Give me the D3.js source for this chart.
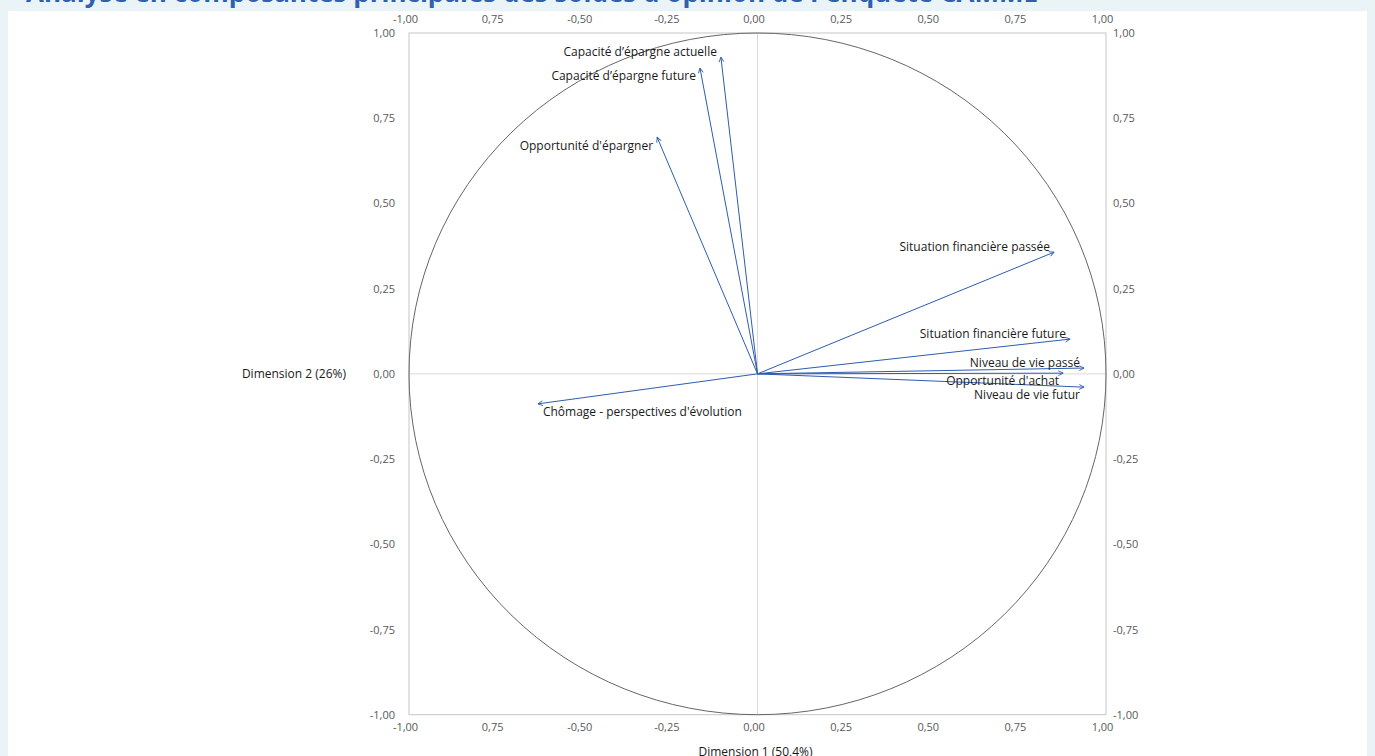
<!DOCTYPE html>
<html>
<head>
<meta charset="utf-8">
<script src="https://cdn.jsdelivr.net/npm/d3@7"></script>
<style>
  html, body { margin: 0; padding: 0; background: #eaf4f7; }
  svg { display: block; font-family: "Open Sans", "Noto Sans", sans-serif; }
</style>
</head>
<body>
<svg id="chart" width="1375" height="756"></svg>
<script>
// ---- Data ----
const variables = [
  "Capacité d’épargne actuelle",
  "Capacité d’épargne future",
  "Opportunité d'épargner",
  "Situation financière passée",
  "Situation financière future",
  "Niveau de vie passé",
  "Opportunité d'achat",
  "Niveau de vie futur",
  "Chômage - perspectives d'évolution"
];
const dim1 = [-0.105, -0.165, -0.288, 0.851, 0.897, 0.937, 0.877, 0.937, -0.630];
const dim2 = [0.929, 0.897, 0.694, 0.357, 0.102, 0.017, 0.002, -0.039, -0.088];
// label placement relative to arrow tip: "above" / "below" (end-anchored), "belowRight" (start-anchored)
const labelPlacement = ["above", "below", "below", "above", "above", "above", "below", "below", "belowRight"];

const tickValues = [-1, -0.75, -0.5, -0.25, 0, 0.25, 0.5, 0.75, 1];
const xTickLabels = ["-1,00", "0,75", "-0,50", "-0,25", "0,00", "0,25", "0,50", "0,75", "1,00"];
const yTickLabels = ["-1,00", "-0,75", "-0,50", "-0,25", "0,00", "0,25", "0,50", "0,75", "1,00"];

const title = "Analyse en composantes principales des soldes d'opinion de l'enquête CAMME";
const xTitle = "Dimension 1 (50,4%)";
const yTitle = "Dimension 2 (26%)";

// ---- Layout ----
const svg = d3.select("#chart");
const W = 1375, H = 756;
const plot = { left: 409, right: 1106, top: 33, bottom: 714.7 };

svg.append("rect").attr("x", 8).attr("y", 11).attr("width", 1359).attr("height", H - 11).attr("fill", "#ffffff");

svg.append("text")
  .attr("x", 26).attr("y", 2)
  .attr("fill", "#2f5faf")
  .attr("font-weight", "bold")
  .attr("font-size", 26)
  .text(title);

const x = d3.scaleLinear().domain([-1, 1]).range([plot.left, plot.right]);
const y = d3.scaleLinear().domain([-1, 1]).range([plot.bottom, plot.top]);

const tickColor = "#595959";
const tickFont = 11;

// Zero lines
svg.append("line")
  .attr("x1", x(-1)).attr("x2", x(1)).attr("y1", y(0)).attr("y2", y(0))
  .attr("stroke", "#d9d9d9").attr("stroke-width", 1);
svg.append("line")
  .attr("x1", x(0)).attr("x2", x(0)).attr("y1", y(-1)).attr("y2", y(1))
  .attr("stroke", "#d9d9d9").attr("stroke-width", 1);

// Box
svg.append("rect")
  .attr("x", x(-1)).attr("y", y(1))
  .attr("width", x(1) - x(-1)).attr("height", y(-1) - y(1))
  .attr("fill", "none").attr("stroke", "#c6c6c6").attr("stroke-width", 1);

// Axes (labels only)
function styleAxis(g) {
  g.select(".domain").remove();
  g.selectAll(".tick line").remove();
  g.selectAll(".tick text")
    .attr("fill", tickColor)
    .attr("font-size", tickFont)
    .attr("font-family", "'Open Sans', 'Noto Sans', sans-serif");
}

const xBottom = d3.axisBottom(x).tickValues(tickValues).tickSize(0).tickPadding(0)
  .tickFormat((d, i) => xTickLabels[i]);
svg.append("g").attr("transform", `translate(-4,${plot.bottom + 8})`).call(xBottom).call(styleAxis);

const xTop = d3.axisTop(x).tickValues(tickValues).tickSize(0).tickPadding(0)
  .tickFormat((d, i) => xTickLabels[i]);
svg.append("g").attr("transform", `translate(-4,${plot.top - 10})`).call(xTop).call(styleAxis);

const yLeft = d3.axisLeft(y).tickValues(tickValues).tickSize(0).tickPadding(0)
  .tickFormat((d, i) => yTickLabels[i]);
svg.append("g").attr("transform", `translate(${plot.left - 14},0)`).call(yLeft).call(styleAxis);

const yRight = d3.axisRight(y).tickValues(tickValues).tickSize(0).tickPadding(0)
  .tickFormat((d, i) => yTickLabels[i]);
svg.append("g").attr("transform", `translate(${plot.right + 7},0)`).call(yRight).call(styleAxis);

// Correlation circle
svg.append("ellipse")
  .attr("cx", x(0)).attr("cy", y(0))
  .attr("rx", x(1) - x(0)).attr("ry", y(0) - y(1))
  .attr("fill", "none").attr("stroke", "#666666").attr("stroke-width", 1);

// Arrow marker
const arrowColor = "#2e5cb0";
svg.append("defs").append("marker")
  .attr("id", "arrow")
  .attr("viewBox", "0 -5 10 10")
  .attr("refX", 9).attr("refY", 0)
  .attr("markerWidth", 6).attr("markerHeight", 6)
  .attr("markerUnits", "userSpaceOnUse")
  .attr("orient", "auto")
  .append("path")
  .attr("d", "M1,-4L9,0L1,4")
  .attr("fill", "none")
  .attr("stroke", arrowColor)
  .attr("stroke-width", 1.5);

const data = variables.map((v, i) => ({ name: v, x: dim1[i], y: dim2[i], pos: labelPlacement[i] }));

svg.append("g").selectAll("line").data(data).join("line")
  .attr("x1", x(0)).attr("y1", y(0))
  .attr("x2", d => x(d.x)).attr("y2", d => y(d.y))
  .attr("stroke", arrowColor).attr("stroke-width", 1)
  .attr("marker-end", "url(#arrow)");

svg.append("g").selectAll("text").data(data).join("text")
  .attr("x", d => x(d.x) + (d.pos === "belowRight" ? 5 : -4))
  .attr("y", d => y(d.y) + (d.pos === "above" ? -5 : 8))
  .attr("dy", "0.35em")
  .attr("text-anchor", d => d.pos === "belowRight" ? "start" : "end")
  .attr("font-size", 12)
  .attr("fill", "#1a1a1a")
  .text(d => d.name);

// Axis titles
svg.append("text")
  .attr("x", 346).attr("y", y(0)).attr("dy", "0.35em")
  .attr("text-anchor", "end")
  .attr("font-size", 12).attr("fill", "#1a1a1a")
  .text(yTitle);

svg.append("text")
  .attr("x", x(0) - 2).attr("y", 752).attr("dy", "0.35em")
  .attr("text-anchor", "middle")
  .attr("font-size", 12).attr("fill", "#1a1a1a")
  .text(xTitle);
</script>
</body>
</html>
